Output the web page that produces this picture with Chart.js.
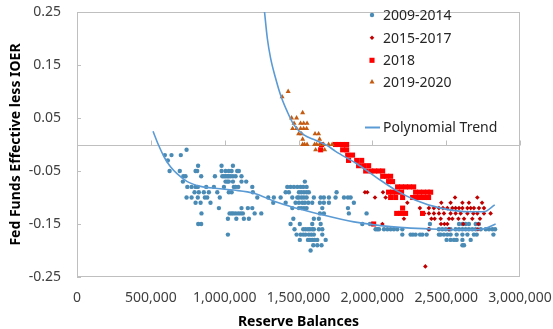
<!DOCTYPE html>
<html>
<head>
<meta charset="utf-8">
<script src="https://cdn.jsdelivr.net/npm/chart.js@4.4.1/dist/chart.umd.min.js"></script>
<style>
  html, body { margin: 0; padding: 0; background: #fff; }
  #wrap { width: 553px; height: 329px; }
</style>
</head>
<body>
<div id="wrap"><canvas id="chart" width="553" height="329"></canvas></div>
<script>
// axis ticks
const xTicks = [0, 500000, 1000000, 1500000, 2000000, 2500000, 3000000];
const yTicks = [-0.25, -0.15, -0.05, 0.05, 0.15, 0.25];

const seriesNames = ['2009-2014', '2015-2017', '2018', '2019-2020'];

// [reserve balances, fed funds effective less IOER]
const s2009 = [
  [742000, -0.01],
  [595000, -0.02], [640000, -0.02], [703000, -0.02],
  [615000, -0.03],
  [820000, -0.04], [979000, -0.04], [1056000, -0.04],
  [627000, -0.05], [696000, -0.05], [803000, -0.05], [814000, -0.05], [979000, -0.05], [1006000, -0.05], [1028000, -0.05], [1047000, -0.05], [1085000, -0.05], [1096000, -0.05],
  [720000, -0.06], [735000, -0.06], [841000, -0.06], [934000, -0.06], [984000, -0.06], [995000, -0.06], [1006000, -0.06], [1018000, -0.06], [1028000, -0.06], [1040000, -0.06], [1056000, -0.06], [1074000, -0.06], [1114000, -0.06],
  [717000, -0.07], [1006000, -0.07], [1018000, -0.07], [1028000, -0.07], [1056000, -0.07], [1114000, -0.07], [1146000, -0.07], [1543000, -0.07],
  [747000, -0.08], [776000, -0.08], [803000, -0.08], [818000, -0.08], [875000, -0.08], [927000, -0.08], [995000, -0.08], [1062000, -0.08], [1074000, -0.08], [1092000, -0.08], [1187000, -0.08],
  [1424000, -0.08], [1446000, -0.08], [1469000, -0.08], [1492000, -0.08], [1514000, -0.08], [1532000, -0.08], [1555000, -0.08],
  [796000, -0.09], [825000, -0.09], [859000, -0.09], [893000, -0.09], [950000, -0.09], [1028000, -0.09], [1047000, -0.09], [1191000, -0.09],
  [1413000, -0.09], [1435000, -0.09], [1503000, -0.09], [1519000, -0.09], [1537000, -0.09], [1555000, -0.09], [1570000, -0.09], [1758000, -0.09],
  [742000, -0.10], [776000, -0.10], [818000, -0.10], [866000, -0.10], [882000, -0.10], [967000, -0.10], [1221000, -0.10], [1295000, -0.10], [1333000, -0.10], [1379000, -0.10],
  [1458000, -0.10], [1492000, -0.10], [1503000, -0.10], [1521000, -0.10], [1537000, -0.10], [1555000, -0.10], [1604000, -0.10], [1650000, -0.10], [1672000, -0.10],
  [1706000, -0.10], [1751000, -0.10], [1808000, -0.10], [1835000, -0.10], [1853000, -0.10],
  [803000, -0.11], [837000, -0.11], [904000, -0.11], [1329000, -0.11], [1413000, -0.11], [1480000, -0.11], [1503000, -0.11], [1526000, -0.11], [1543000, -0.11],
  [1566000, -0.11], [1593000, -0.11], [1645000, -0.11], [1672000, -0.11], [1706000, -0.11], [1875000, -0.11],
  [961000, -0.12], [1114000, -0.12], [1157000, -0.12], [1187000, -0.12], [1458000, -0.12], [1503000, -0.12], [1519000, -0.12], [1537000, -0.12], [1555000, -0.12], [1661000, -0.12], [1835000, -0.12],
  [843000, -0.13], [1033000, -0.13], [1047000, -0.13], [1058000, -0.13], [1074000, -0.13], [1092000, -0.13], [1108000, -0.13], [1123000, -0.13], [1203000, -0.13], [1248000, -0.13],
  [1645000, -0.13], [1672000, -0.13], [1841000, -0.13], [1961000, -0.13],
  [1022000, -0.14], [1079000, -0.14], [1130000, -0.14], [1164000, -0.14], [1465000, -0.14], [1604000, -0.14], [1638000, -0.14],
  [821000, -0.15], [841000, -0.15], [1446000, -0.15], [1509000, -0.15], [1593000, -0.15], [1650000, -0.15], [1932000, -0.15], [1984000, -0.15], [2000000, -0.15],
  [2390000, -0.15], [2587000, -0.15], [2610000, -0.15], [2632000, -0.15], [2654000, -0.15], [2700000, -0.15], [2722000, -0.15],
  [1473000, -0.16], [1532000, -0.16], [1548000, -0.16], [1564000, -0.16], [1577000, -0.16], [1593000, -0.16], [1604000, -0.16], [1638000, -0.16], [1661000, -0.16],
  [2022000, -0.16], [2034000, -0.16], [2045000, -0.16], [2079000, -0.16], [2102000, -0.16], [2124000, -0.16], [2146000, -0.16], [2169000, -0.16], [2203000, -0.16],
  [2383000, -0.16], [2451000, -0.16], [2474000, -0.16], [2497000, -0.16], [2519000, -0.16], [2530000, -0.16], [2564000, -0.16], [2587000, -0.16], [2610000, -0.16],
  [2632000, -0.16], [2654000, -0.16], [2677000, -0.16], [2700000, -0.16], [2734000, -0.16], [2768000, -0.16], [2790000, -0.16], [2813000, -0.16], [2831000, -0.16],
  [1022000, -0.17], [1487000, -0.17], [1514000, -0.17], [1532000, -0.17], [1548000, -0.17], [1570000, -0.17], [1587000, -0.17], [1604000, -0.17], [1661000, -0.17],
  [2203000, -0.17], [2259000, -0.17], [2275000, -0.17], [2293000, -0.17], [2323000, -0.17], [2339000, -0.17], [2368000, -0.17], [2451000, -0.17], [2463000, -0.17],
  [2485000, -0.17], [2508000, -0.17], [2530000, -0.17], [2571000, -0.17], [2610000, -0.17], [2644000, -0.17], [2688000, -0.17], [2707000, -0.17], [2820000, -0.17],
  [1509000, -0.18], [1564000, -0.18], [1577000, -0.18], [1593000, -0.18], [1609000, -0.18], [1627000, -0.18], [1684000, -0.18],
  [2503000, -0.18], [2530000, -0.18], [2553000, -0.18], [2571000, -0.18], [2610000, -0.18], [2666000, -0.18],
  [1600000, -0.19], [1627000, -0.19], [1656000, -0.19], [2610000, -0.19], [2621000, -0.19],
  [1582000, -0.20]
];

const s2015 = [
  [1950000, -0.09], [1966000, -0.09], [2072000, -0.09],
  [2018000, -0.10], [2090000, -0.10], [2560000, -0.10], [2711000, -0.10],
  [2237000, -0.11], [2467000, -0.11], [2530000, -0.11], [2610000, -0.11], [2654000, -0.11], [2743000, -0.11],
  [2322000, -0.12], [2383000, -0.12], [2417000, -0.12], [2451000, -0.12], [2478000, -0.12], [2508000, -0.12], [2542000, -0.12], [2564000, -0.12],
  [2587000, -0.12], [2610000, -0.12], [2644000, -0.12], [2666000, -0.12], [2688000, -0.12], [2722000, -0.12], [2756000, -0.12],
  [2350000, -0.13], [2383000, -0.13], [2417000, -0.13], [2451000, -0.13], [2485000, -0.13], [2530000, -0.13], [2564000, -0.13],
  [2598000, -0.13], [2644000, -0.13], [2684000, -0.13], [2711000, -0.13], [2756000, -0.13], [2801000, -0.13],
  [2214000, -0.14], [2400000, -0.14], [2422000, -0.14], [2463000, -0.14], [2519000, -0.14], [2542000, -0.14], [2583000, -0.14], [2621000, -0.14], [2677000, -0.14], [2729000, -0.14],
  [2068000, -0.15], [2465000, -0.15], [2488000, -0.15], [2508000, -0.15], [2616000, -0.15], [2718000, -0.15],
  [2383000, -0.16], [2519000, -0.16], [2715000, -0.16],
  [2359000, -0.23]
];

const s2018 = [
  [1656000, 0.00], [1751000, 0.00], [1772000, 0.00], [1799000, 0.00], [1826000, 0.00],
  [1650000, -0.01], [1799000, -0.01], [1826000, -0.01],
  [1833000, -0.02], [1866000, -0.02],
  [1839000, -0.03], [1894000, -0.03], [1928000, -0.03],
  [1907000, -0.04], [1941000, -0.04], [1975000, -0.04],
  [1955000, -0.05], [1989000, -0.05], [2016000, -0.05], [2043000, -0.05], [2070000, -0.05],
  [2070000, -0.06], [2097000, -0.06], [2124000, -0.06],
  [2110000, -0.07], [2137000, -0.07],
  [2171000, -0.08], [2198000, -0.08], [2225000, -0.08], [2252000, -0.08], [2280000, -0.08],
  [2110000, -0.09], [2137000, -0.09], [2165000, -0.09], [2198000, -0.09], [2293000, -0.09], [2320000, -0.09], [2347000, -0.09], [2374000, -0.09], [2395000, -0.09],
  [2124000, -0.10], [2158000, -0.10], [2205000, -0.10], [2273000, -0.10], [2300000, -0.10], [2327000, -0.10], [2354000, -0.10], [2381000, -0.10],
  [2205000, -0.12],
  [2165000, -0.13], [2191000, -0.13], [2225000, -0.13], [2340000, -0.13],
  [2009000, -0.15]
];

const s2019 = [
  [1430000, 0.10],
  [1389000, 0.09],
  [1528000, 0.06],
  [1453000, 0.05], [1487000, 0.05],
  [1470000, 0.04], [1514000, 0.04], [1535000, 0.04], [1558000, 0.04],
  [1460000, 0.03], [1487000, 0.03], [1514000, 0.03], [1535000, 0.03], [1555000, 0.03],
  [1501000, 0.02], [1521000, 0.02], [1612000, 0.02], [1636000, 0.02],
  [1528000, 0.01], [1643000, 0.01],
  [1528000, 0.00], [1541000, 0.00], [1558000, 0.00], [1609000, 0.00], [1623000, 0.00], [1643000, 0.00], [1670000, 0.00], [1704000, 0.00], [1728000, 0.00],
  [1616000, -0.01], [1677000, -0.01]
];

// polynomial trend lines
const trendLow = [
  [515000, 0.025], [552000, -0.001], [593000, -0.025], [633000, -0.042], [681000, -0.056], [747000, -0.070],
  [837000, -0.079], [950000, -0.083], [1062000, -0.086], [1198000, -0.092], [1345000, -0.108], [1446000, -0.117],
  [1650000, -0.132], [1875000, -0.146], [2124000, -0.155], [2440000, -0.160], [2666000, -0.161], [2756000, -0.159], [2835000, -0.150]
];
const trendHigh = [
  [1256000, 0.29], [1270000, 0.250], [1289000, 0.200], [1311000, 0.163], [1345000, 0.125], [1379000, 0.093],
  [1424000, 0.062], [1469000, 0.037], [1537000, 0.018], [1616000, 0.008], [1695000, -0.002], [1751000, -0.013],
  [1887000, -0.035], [2022000, -0.061], [2158000, -0.086], [2293000, -0.105], [2463000, -0.120], [2666000, -0.127],
  [2756000, -0.127], [2829000, -0.114]
];

const colBlue = '#4a8bb5';
const colDark = '#c00000';
const colRed = '#ff0000';
const colOrange = '#c55a11';
const colTrend = '#5b9bd5';
const colAxis = '#bfbfbf';

Chart.defaults.font.family = '"Noto Sans", "Open Sans", sans-serif';
Chart.defaults.font.size = 14;
Chart.defaults.color = '#404040';

// plot frame, zero line and inside tick marks
const framePlugin = {
  id: 'frame',
  beforeDatasetsDraw(chart) {
    const { ctx, chartArea: a, scales: { x, y } } = chart;
    ctx.save();
    ctx.strokeStyle = colAxis;
    ctx.lineWidth = 1;
    ctx.strokeRect(Math.round(a.left) + 0.5, Math.round(a.top) + 0.5, Math.round(a.width) - 1, Math.round(a.height) - 1);
    const y0 = Math.round(y.getPixelForValue(0)) + 0.5;
    ctx.beginPath();
    ctx.moveTo(a.left, y0);
    ctx.lineTo(a.right, y0);
    x.ticks.forEach(t => {
      const px = Math.round(x.getPixelForValue(t.value)) + 0.5;
      ctx.moveTo(px, y0);
      ctx.lineTo(px, y0 - 5);
    });
    y.ticks.forEach(t => {
      const py = Math.round(y.getPixelForValue(t.value)) + 0.5;
      ctx.moveTo(a.left, py);
      ctx.lineTo(a.left + 4, py);
    });
    ctx.stroke();
    ctx.restore();
  }
};

// legend inside the plot, top right
const legendPlugin = {
  id: 'innerLegend',
  afterDraw(chart) {
    const { ctx, chartArea: a } = chart;
    const mx = a.left + 295, tx = a.left + 306;
    const rows = [0, 22.7, 45.3, 67];
    ctx.save();
    ctx.font = '14px "Noto Sans", "Open Sans", sans-serif';
    ctx.textBaseline = 'middle';
    chart.data.datasets.slice(0, 4).forEach((ds, i) => {
      const cy = a.top + 3 + rows[i];
      ctx.fillStyle = ds.backgroundColor;
      Chart.helpers.drawPoint(ctx, { pointStyle: ds.pointStyle, radius: ds.pointRadius, rotation: 0, borderWidth: 0 }, mx, cy);
      ctx.fillStyle = '#262626';
      ctx.fillText(ds.label, tx, cy + 1);
    });
    const ly = a.top + 115.5;
    ctx.strokeStyle = colTrend;
    ctx.lineWidth = 2;
    ctx.beginPath();
    ctx.moveTo(a.left + 288, ly);
    ctx.lineTo(a.left + 303, ly);
    ctx.stroke();
    ctx.fillStyle = '#262626';
    ctx.fillText('Polynomial Trend', tx, ly + 1);
    ctx.restore();
  }
};

// keep the plot area where the layout padding puts it
const noScalePadding = s => {
  s.paddingTop = 0;
  s.paddingBottom = 0;
  s.paddingLeft = 0;
  s.paddingRight = 0;
};

new Chart(document.getElementById('chart'), {
  type: 'scatter',
  data: {
    datasets: [
      { label: seriesNames[0], data: s2009, pointStyle: 'circle', pointRadius: 2.2, backgroundColor: colBlue, borderWidth: 0, order: 4 },
      { label: seriesNames[1], data: s2015, pointStyle: 'rectRot', pointRadius: 2.3, backgroundColor: colDark, borderWidth: 0, order: 3 },
      { label: seriesNames[2], data: s2018, pointStyle: 'rect', pointRadius: 3.6, backgroundColor: colRed, borderWidth: 0, order: 2 },
      { label: seriesNames[3], data: s2019, pointStyle: 'triangle', pointRadius: 2.9, backgroundColor: colOrange, borderWidth: 0, order: 1 },
      { label: 'Polynomial Trend', data: trendLow, showLine: true, pointRadius: 0, borderColor: colTrend, borderWidth: 1.6, cubicInterpolationMode: 'monotone', fill: false, order: 0 },
      { label: 'Polynomial Trend 2', data: trendHigh, showLine: true, pointRadius: 0, borderColor: colTrend, borderWidth: 1.6, cubicInterpolationMode: 'monotone', fill: false, order: 0 }
    ]
  },
  options: {
    responsive: false,
    devicePixelRatio: 1,
    animation: false,
    events: [],
    layout: { padding: { top: 12, right: 33, left: 0, bottom: 0 } },
    plugins: {
      legend: { display: false },
      tooltip: { enabled: false }
    },
    scales: {
      x: {
        type: 'linear',
        min: 0,
        max: 3000000,
        afterBuildTicks: s => { s.ticks = xTicks.map(v => ({ value: v })); },
        afterFit: s => { s.height = 52; noScalePadding(s); },
        ticks: {
          padding: 13,
          maxRotation: 0,
          autoSkip: false,
          color: '#404040',
          callback: v => v.toLocaleString('en-US')
        },
        grid: { display: false, drawTicks: false },
        border: { display: false },
        title: {
          display: true,
          text: 'Reserve Balances',
          color: '#000',
          font: { weight: 'bold', size: 14, lineHeight: 1 },
          padding: { top: 0, bottom: 0 }
        }
      },
      y: {
        min: -0.25,
        max: 0.25,
        afterBuildTicks: s => { s.ticks = yTicks.map(v => ({ value: v })); },
        afterFit: s => { s.width = 77; noScalePadding(s); },
        ticks: {
          padding: 16,
          color: '#404040',
          callback: v => v.toFixed(2)
        },
        grid: { display: false, drawTicks: false },
        border: { display: false },
        title: {
          display: true,
          text: 'Fed Funds Effective less IOER',
          color: '#000',
          font: { weight: 'bold', size: 14, lineHeight: 1 },
          padding: { top: 9, bottom: 0 }
        }
      }
    }
  },
  plugins: [framePlugin, legendPlugin]
});
</script>
</body>
</html>
